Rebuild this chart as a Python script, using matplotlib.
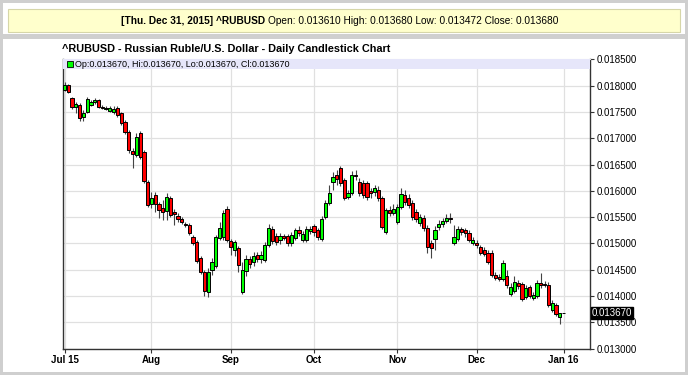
import numpy as np
import pandas as pd
import matplotlib
matplotlib.use("Agg")
import matplotlib.pyplot as plt
from matplotlib.patches import Rectangle

plt.rcParams['font.family'] = ['Liberation Sans Narrow', 'Liberation Sans', 'DejaVu Sans']

# daily candles, Jul 1 2015 .. Jan 1 2016 (weekdays)
dates = pd.bdate_range("2015-07-01", "2016-01-01")

opens = [
    # Jul
    0.017917, 0.018012, 0.017765, 0.017594, 0.017632, 0.017404, 0.017499, 0.017632, 0.017689, 0.017727, 0.017594, 0.017556,
    0.017518, 0.017499, 0.017575, 0.017480, 0.017309, 0.017119, 0.016758, 0.016682, 0.017100, 0.016739, 0.016169,
    # Aug
    0.015751, 0.015922, 0.015751, 0.015675, 0.015618, 0.015865, 0.015599, 0.015523, 0.015466, 0.015371, 0.015352,
    0.015124, 0.015029, 0.014725, 0.014459, 0.014079, 0.014497, 0.014573, 0.015105, 0.015124, 0.015656,
    # Sep
    0.015048, 0.014877, 0.014915, 0.014079, 0.014478, 0.014706, 0.014649, 0.014782, 0.014706, 0.014687, 0.014972,
    0.015276, 0.015143, 0.015067, 0.015143, 0.015143, 0.015010, 0.015105, 0.015257, 0.015067, 0.015067, 0.015238,
    # Oct
    0.015333, 0.015257, 0.015086, 0.015504, 0.015770, 0.016169, 0.016302, 0.016435, 0.016207, 0.015884, 0.015960,
    0.016302, 0.016169, 0.016150, 0.016150, 0.015998, 0.015979, 0.016017, 0.015865, 0.015219, 0.015637, 0.015580,
    # Nov
    0.015409, 0.015694, 0.015922, 0.015865, 0.015770, 0.015599, 0.015390, 0.015485, 0.015295, 0.015010, 0.015086,
    0.015314, 0.015371, 0.015428, 0.015485, 0.015010, 0.015086, 0.015276, 0.015257, 0.015200, 0.015010,
    # Dec + Jan 1
    0.015010, 0.014934, 0.014877, 0.014820, 0.014820, 0.014402, 0.014364, 0.014326, 0.014383, 0.014041, 0.014098,
    0.014250, 0.014231, 0.013984, 0.014174, 0.013965, 0.014003, 0.014250, 0.014231, 0.014212, 0.013737, 0.013832,
    0.013610, 0.013670,
]
highs = [
    0.018069, 0.018031, 0.017784, 0.017689, 0.017670, 0.017537, 0.017784, 0.017727, 0.017765, 0.017746, 0.017632, 0.017613,
    0.017613, 0.017613, 0.017613, 0.017499, 0.017347, 0.017157, 0.016815, 0.017100, 0.017138, 0.016777, 0.016207,
    0.015979, 0.015979, 0.015789, 0.015827, 0.015960, 0.015903, 0.015656, 0.015580, 0.015504, 0.015409, 0.015390,
    0.015162, 0.015067, 0.014763, 0.014497, 0.014535, 0.014725, 0.015162, 0.015409, 0.015637, 0.015713,
    0.015086, 0.015067, 0.014953, 0.014649, 0.014782, 0.014763, 0.014839, 0.014839, 0.014858, 0.015029, 0.015371,
    0.015333, 0.015200, 0.015200, 0.015181, 0.015181, 0.015219, 0.015295, 0.015333, 0.015238, 0.015333, 0.015333,
    0.015371, 0.015295, 0.015523, 0.015827, 0.016112, 0.016359, 0.016397, 0.016473, 0.016245, 0.016017, 0.016378,
    0.016397, 0.016245, 0.016207, 0.016188, 0.016055, 0.016112, 0.016093, 0.015903, 0.015675, 0.015713, 0.015751,
    0.015751, 0.016055, 0.016017, 0.015941, 0.015827, 0.015656, 0.015561, 0.015542, 0.015352, 0.015067, 0.015333,
    0.015447, 0.015485, 0.015561, 0.015580, 0.015352, 0.015333, 0.015314, 0.015295, 0.015257, 0.015124,
    0.015067, 0.014972, 0.014934, 0.014877, 0.014877, 0.014459, 0.014421, 0.014687, 0.014497, 0.014250, 0.014383,
    0.014307, 0.014269, 0.014212, 0.014212, 0.014079, 0.014307, 0.014440, 0.014288, 0.014269, 0.013927, 0.013870,
    0.013680, 0.013670,
]
lows = [
    0.017898, 0.017860, 0.017556, 0.017480, 0.017328, 0.017328, 0.017480, 0.017613, 0.017651, 0.017575, 0.017556, 0.017537,
    0.017499, 0.017461, 0.017404, 0.017252, 0.017081, 0.016720, 0.016435, 0.016644, 0.016606, 0.016150, 0.015694,
    0.015675, 0.015599, 0.015485, 0.015447, 0.015447, 0.015504, 0.015352, 0.015409, 0.015371, 0.015314, 0.015162,
    0.014972, 0.014630, 0.014421, 0.014003, 0.013984, 0.014402, 0.014535, 0.015067, 0.015067, 0.015029,
    0.014782, 0.014763, 0.014459, 0.014041, 0.014383, 0.014535, 0.014573, 0.014649, 0.014630, 0.014649, 0.014934,
    0.014991, 0.014972, 0.014991, 0.015067, 0.014953, 0.014953, 0.015067, 0.015143, 0.015029, 0.015029, 0.015181,
    0.015143, 0.015067, 0.015048, 0.015466, 0.015732, 0.016017, 0.016112, 0.016093, 0.015827, 0.015846, 0.015922,
    0.016207, 0.015903, 0.015865, 0.015827, 0.015865, 0.015903, 0.015808, 0.015276, 0.015181, 0.015523, 0.015542,
    0.015371, 0.015656, 0.015732, 0.015675, 0.015447, 0.015409, 0.015333, 0.015238, 0.014820, 0.014725, 0.014877,
    0.015257, 0.015314, 0.015390, 0.015390, 0.014972, 0.015048, 0.015162, 0.015124, 0.015029, 0.014972,
    0.014915, 0.014782, 0.014763, 0.014611, 0.014364, 0.014307, 0.014288, 0.014288, 0.014155, 0.014003, 0.014060,
    0.014136, 0.013908, 0.013946, 0.013965, 0.013927, 0.013965, 0.014155, 0.014174, 0.013794, 0.013699, 0.013623,
    0.013472, 0.013670,
]
closes = [
    0.018012, 0.017879, 0.017594, 0.017651, 0.017385, 0.017480, 0.017746, 0.017689, 0.017727, 0.017594, 0.017575, 0.017575,
    0.017575, 0.017556, 0.017442, 0.017290, 0.017119, 0.016777, 0.016701, 0.017024, 0.016644, 0.016188, 0.015732,
    0.015865, 0.015751, 0.015637, 0.015599, 0.015884, 0.015542, 0.015561, 0.015466, 0.015409, 0.015352, 0.015200,
    0.015010, 0.014668, 0.014459, 0.014098, 0.014459, 0.014649, 0.015124, 0.015295, 0.015580, 0.015067,
    0.014934, 0.015029, 0.014592, 0.014497, 0.014706, 0.014611, 0.014763, 0.014706, 0.014782, 0.014972, 0.015295,
    0.015048, 0.015029, 0.015143, 0.015105, 0.015010, 0.015162, 0.015257, 0.015200, 0.015181, 0.015276, 0.015276,
    0.015219, 0.015124, 0.015466, 0.015770, 0.015960, 0.016264, 0.016226, 0.016150, 0.015865, 0.015960, 0.016302,
    0.016283, 0.015960, 0.015922, 0.015884, 0.015960, 0.016055, 0.015865, 0.015314, 0.015637, 0.015580, 0.015656,
    0.015694, 0.015941, 0.015789, 0.015732, 0.015504, 0.015466, 0.015504, 0.015295, 0.014934, 0.014915, 0.015257,
    0.015371, 0.015428, 0.015485, 0.015466, 0.015124, 0.015276, 0.015219, 0.015200, 0.015067, 0.015067,
    0.014972, 0.014820, 0.014801, 0.014649, 0.014402, 0.014345, 0.014326, 0.014630, 0.014212, 0.014174, 0.014269,
    0.014193, 0.013946, 0.014155, 0.014003, 0.014022, 0.014250, 0.014212, 0.014212, 0.013832, 0.013870, 0.013661,
    0.013680, 0.013670,
]

yticks = np.arange(0.0130, 0.01851, 0.0005)
header_bold = "[Thu. Dec 31, 2015] ^RUBUSD"
header_rest = "Open: 0.013610 High: 0.013680 Low: 0.013472 Close: 0.013680"
title = "^RUBUSD - Russian Ruble/U.S. Dollar - Daily Candlestick Chart"
legend_text = "Op:0.013670, Hi:0.013670, Lo:0.013670, Cl:0.013670"
last_price = 0.013670

o = np.array(opens); h = np.array(highs); l = np.array(lows); c = np.array(closes)
x = np.arange(len(dates))
W, H = 688, 375


def px_rect(x0, y0, w, hh, **kw):
    # rectangle given in pixel coords (top-left origin)
    return Rectangle((x0 / W, 1 - (y0 + hh) / H), w / W, hh / H, transform=fig.transFigure, **kw)


fig = plt.figure(figsize=(6.88, 3.75), dpi=100)
fig.patch.set_facecolor('#cfcfcf')
fig.add_artist(px_rect(3, 3, 682, 31, facecolor='white', edgecolor='none', zorder=0))
fig.add_artist(px_rect(3, 39, 682, 333, facecolor='white', edgecolor='none', zorder=0))
fig.add_artist(px_rect(8, 9, 672, 23, facecolor='#ffffcc', edgecolor='#d6d6a8', linewidth=0.8, zorder=1))
fig.text(265 / W, 1 - 21 / H, header_bold, ha='right', va='center', fontsize=7.3, fontweight='bold')
fig.text(268 / W, 1 - 21 / H, header_rest, ha='left', va='center', fontsize=7.3)
fig.text(62 / W, 1 - 49 / H, title, ha='left', va='center', fontsize=7.8, fontweight='bold')

ax = fig.add_axes([63 / W, 1 - 348.7 / H, 527 / W, 289.3 / H])
ax.set_xlim(-0.4, 139)
ax.set_ylim(0.0130, 0.0185)

up = c >= o
colors = np.where(up, '#00ff00', '#ff0000')
ax.vlines(x, l, h, color='#444444', linewidth=0.8, zorder=2)
body_lo = np.minimum(o, c)
body_h = np.abs(c - o)
ax.bar(x, body_h, bottom=body_lo, width=0.85, color=colors, edgecolor='black', linewidth=0.7, zorder=3)

# month ticks at first trading day of each month
month_start = np.r_[True, dates.month[1:] != dates.month[:-1]]
tick_pos = x[month_start]
tick_lbl = [d.strftime('%b %y') if d.month in (1, 7) else d.strftime('%b') for d in dates[month_start]]
ax.set_xticks(tick_pos)
ax.set_xticklabels(tick_lbl, fontsize=7, fontweight='bold')
ax.yaxis.tick_right()
ax.set_yticks(yticks)
ax.set_yticklabels(['%.6f' % v for v in yticks], fontsize=7)
ax.tick_params(axis='both', length=3, width=0.8, color='#333333', pad=1.5)
ax.grid(True, color='#e0e0e0', linewidth=0.9, zorder=0)
ax.set_axisbelow(True)
for s in ['left', 'bottom', 'right']:
    ax.spines[s].set_color('#333333')
    ax.spines[s].set_linewidth(1.0)
ax.spines['top'].set_color('#e0e0e0')

# legend band
ax.add_patch(Rectangle((0, 1 - 10 / 289.3), 1, 10 / 289.3, transform=ax.transAxes,
                       facecolor='#e6e6fa', edgecolor='none', zorder=4))
ax.plot([6.5 / 527], [1 - 5 / 289.3], marker='s', markersize=5, markerfacecolor='#00ff00',
        markeredgecolor='black', markeredgewidth=0.6, transform=ax.transAxes, zorder=5, clip_on=False)
ax.text(12 / 527, 1 - 5 / 289.3, legend_text, transform=ax.transAxes, fontsize=6.5,
        ha='left', va='center', zorder=5)

# last price marker on the right axis
ax.annotate('%.6f' % last_price, xy=(1, last_price), xycoords=('axes fraction', 'data'),
            xytext=(1.5, 0), textcoords='offset points', ha='left', va='center', fontsize=7,
            color='white', bbox=dict(boxstyle='square,pad=0.1', facecolor='black', edgecolor='black'))

fig.savefig('out.png', dpi=100, facecolor=fig.get_facecolor())
